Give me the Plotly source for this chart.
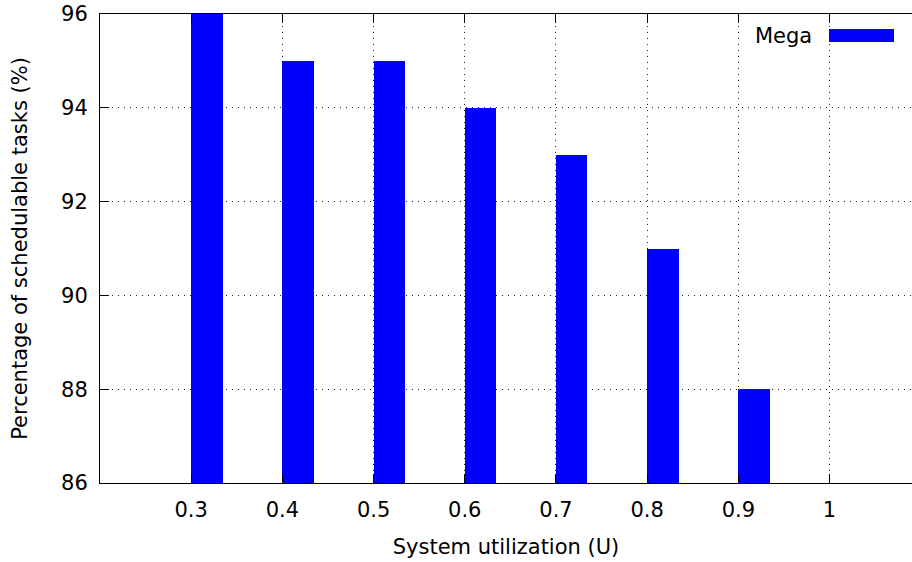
import plotly.graph_objects as go

# System utilization levels and schedulability results
utilization = [0.3, 0.4, 0.5, 0.6, 0.7, 0.8, 0.9]
schedulable_pct = [96, 95, 95, 94, 93, 91, 88]
x_ticks = [0.3, 0.4, 0.5, 0.6, 0.7, 0.8, 0.9, 1]
x_tick_text = ["0.3", "0.4", "0.5", "0.6", "0.7", "0.8", "0.9", "1"]
y_ticks = [86, 88, 90, 92, 94, 96]
series_name = "Mega"

FONT = "DejaVu Sans"
BLUE = "#0000ff"
FS = 21

fig = go.Figure()
fig.add_trace(go.Bar(
    x=utilization,
    y=schedulable_pct,
    width=0.0345,
    offset=0,
    marker=dict(color=BLUE, line=dict(width=0)),
    name=series_name,
    showlegend=False,
))

fig.update_layout(
    width=912,
    height=562,
    margin=dict(l=100, r=0, t=14, b=79),
    paper_bgcolor="white",
    plot_bgcolor="white",
    font=dict(family=FONT, size=FS, color="black"),
    bargap=0,
)

common = dict(
    ticks="inside",
    ticklen=9,
    tickcolor="black",
    showline=True,
    linecolor="black",
    linewidth=1,
    showgrid=True,
    gridcolor="#222222",
    gridwidth=1,
    griddash="1px,5px",
    zeroline=False,
    tickfont=dict(size=FS),
)

fig.update_xaxes(
    range=[0.2, 1.0904],
    tickvals=x_ticks,
    ticktext=x_tick_text,
    mirror="ticks",
    ticklabelstandoff=8,
    title=dict(text="System utilization (U)", font=dict(size=FS), standoff=18),
    **common,
)

fig.update_yaxes(
    range=[86, 96],
    tickvals=y_ticks,
    ticklabelstandoff=7,
    title=dict(text="Percentage of schedulable tasks (%)", font=dict(size=FS), standoff=27),
    **common,
)

# Key in the upper right: label plus a wide colour swatch
fig.add_annotation(
    x=(814 - 100) / 812, y=1 - (35.5 - 14) / 469,
    xref="paper", yref="paper", text=series_name,
    showarrow=False, xanchor="right", yanchor="middle",
    font=dict(size=FS, family=FONT, color="black"),
)
fig.add_shape(
    type="rect", xref="paper", yref="paper",
    x0=(829 - 100) / 812, x1=(894 - 100) / 812,
    y0=1 - (42 - 14) / 469, y1=1 - (29 - 14) / 469,
    fillcolor=BLUE, line=dict(width=0),
)

fig.write_html("out.html")
